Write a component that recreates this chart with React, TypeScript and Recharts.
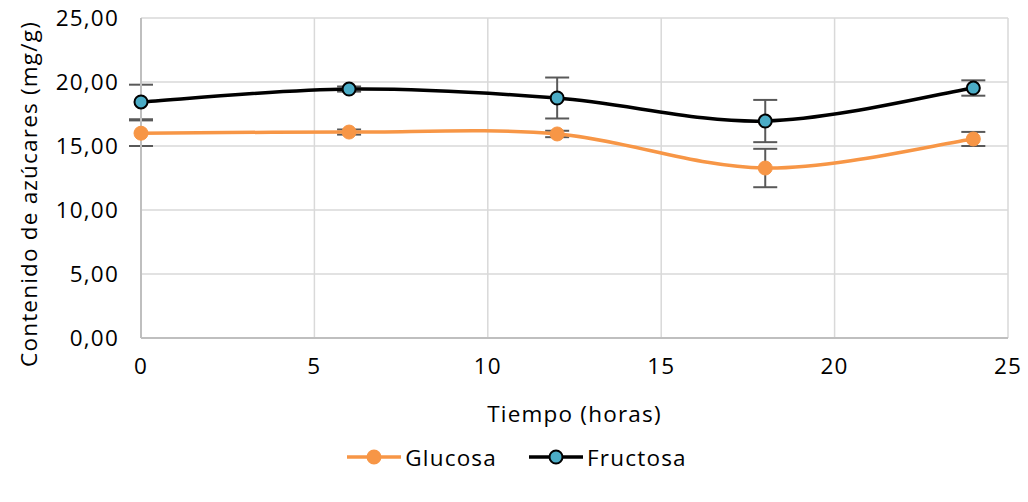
import React from 'react';
import { LineChart, Line, XAxis, YAxis, CartesianGrid, ErrorBar, Legend } from 'recharts';

const times = [0, 6, 12, 18, 24];
const glucosa = [16.0, 16.09, 15.94, 13.28, 15.55];
const fructosa = [18.44, 19.45, 18.75, 16.95, 19.53];
const glucosaErr = [1.0, 0.2, 0.25, 1.5, 0.55];
const fructosaErr = [1.35, 0.2, 1.6, 1.65, 0.6];
const xTicks = [0, 5, 10, 15, 20, 25];
const yTicks = [0, 5, 10, 15, 20, 25];

const data = times.map((t, i) => ({
  t,
  glucosa: glucosa[i],
  fructosa: fructosa[i],
  errG: glucosaErr[i],
  errF: fructosaErr[i],
}));

const ORANGE = '#f79646';
const TEAL = '#4bacc6';
const FONT = '"Open Sans", sans-serif';
const LS = 1.2;

const fmt = (v: number) => v.toFixed(2).replace('.', ',');

// Excel-like smoothing (Catmull-Rom through the points)
const excelSmooth = (context: any) => {
  let pts: number[][] = [];
  return {
    areaStart() {},
    areaEnd() {},
    lineStart() { pts = []; },
    point(x: number, y: number) { pts.push([+x, +y]); },
    lineEnd() {
      if (!pts.length) return;
      context.moveTo(pts[0][0], pts[0][1]);
      for (let i = 0; i < pts.length - 1; i++) {
        const p0 = pts[i - 1] || pts[i];
        const p1 = pts[i];
        const p2 = pts[i + 1];
        const p3 = pts[i + 2] || p2;
        context.bezierCurveTo(
          p1[0] + (p2[0] - p0[0]) / 6, p1[1] + (p2[1] - p0[1]) / 6,
          p2[0] - (p3[0] - p1[0]) / 6, p2[1] - (p3[1] - p1[1]) / 6,
          p2[0], p2[1]
        );
      }
    },
  };
};

const YLabel = ({ viewBox }: any) => {
  const x = viewBox.x + 28;
  const y = viewBox.y + viewBox.height / 2 + 16;
  return (
    <text x={x} y={y} transform={`rotate(-90 ${x} ${y})`} textAnchor="middle" dominantBaseline="central"
      fill="#000" fontSize={22.5} fontFamily={FONT} letterSpacing={LS}>
      Contenido de azúcares (mg/g)
    </text>
  );
};

const LegendContent = () => {
  const items = [
    { name: 'Glucosa', stroke: ORANGE, fill: ORANGE, dotStroke: ORANGE },
    { name: 'Fructosa', stroke: '#000', fill: TEAL, dotStroke: '#000' },
  ];
  return (
    <div style={{ height: 50, display: 'flex', justifyContent: 'center', alignItems: 'center', gap: 32, paddingLeft: 26 }}>
      {items.map((it) => (
        <div key={it.name} style={{ display: 'flex', alignItems: 'center' }}>
          <svg width={54} height={20}>
            <line x1={0} y1={10} x2={54} y2={10} stroke={it.stroke} strokeWidth={3.5} />
            <circle cx={27} cy={10} r={6.5} fill={it.fill} stroke={it.dotStroke} strokeWidth={2} />
          </svg>
          <span style={{ fontFamily: FONT, fontSize: 22.5, color: '#000', marginLeft: 4, letterSpacing: LS }}>{it.name}</span>
        </div>
      ))}
    </div>
  );
};

const tickStyle = { fill: '#000', fontSize: 22.5, fontFamily: FONT, letterSpacing: LS };

export default function App() {
  return (
    <div style={{ position: 'absolute', left: 0, top: 0, background: '#fff' }}>
      <LineChart width={1028} height={502} data={data} margin={{ top: 18, right: 20, left: 0, bottom: 20 }}>
        <CartesianGrid stroke="#d9d9d9" strokeWidth={1.5} />
        <XAxis
          dataKey="t"
          type="number"
          domain={[0, 25]}
          ticks={xTicks}
          tickLine={false}
          tickSize={0}
          tickMargin={20}
          height={94}
          axisLine={{ stroke: '#bfbfbf', strokeWidth: 2 }}
          tick={tickStyle}
          label={{ value: 'Tiempo (horas)', position: 'insideBottom', offset: 10, fill: '#000', fontSize: 22.5, fontFamily: FONT, letterSpacing: LS }}
        />
        <YAxis
          type="number"
          domain={[0, 25]}
          ticks={yTicks}
          width={141}
          tickLine={false}
          tickSize={0}
          tickMargin={22}
          tickFormatter={fmt}
          axisLine={{ stroke: '#bfbfbf', strokeWidth: 2 }}
          tick={tickStyle}
          label={<YLabel />}
        />
        <Legend verticalAlign="bottom" content={<LegendContent />} />
        <Line
          type={excelSmooth as any}
          dataKey="glucosa"
          name="Glucosa"
          stroke={ORANGE}
          strokeWidth={3.5}
          dot={{ r: 7, fill: ORANGE, stroke: ORANGE, strokeWidth: 1 }}
          activeDot={false}
          isAnimationActive={false}
        >
          <ErrorBar dataKey="errG" direction="y" width={12} stroke="#595959" strokeWidth={2} />
        </Line>
        <Line
          type={excelSmooth as any}
          dataKey="fructosa"
          name="Fructosa"
          stroke="#000"
          strokeWidth={3.5}
          dot={{ r: 6.5, fill: TEAL, stroke: '#000', strokeWidth: 2 }}
          activeDot={false}
          isAnimationActive={false}
        >
          <ErrorBar dataKey="errF" direction="y" width={12} stroke="#595959" strokeWidth={2} />
        </Line>
      </LineChart>
    </div>
  );
}
